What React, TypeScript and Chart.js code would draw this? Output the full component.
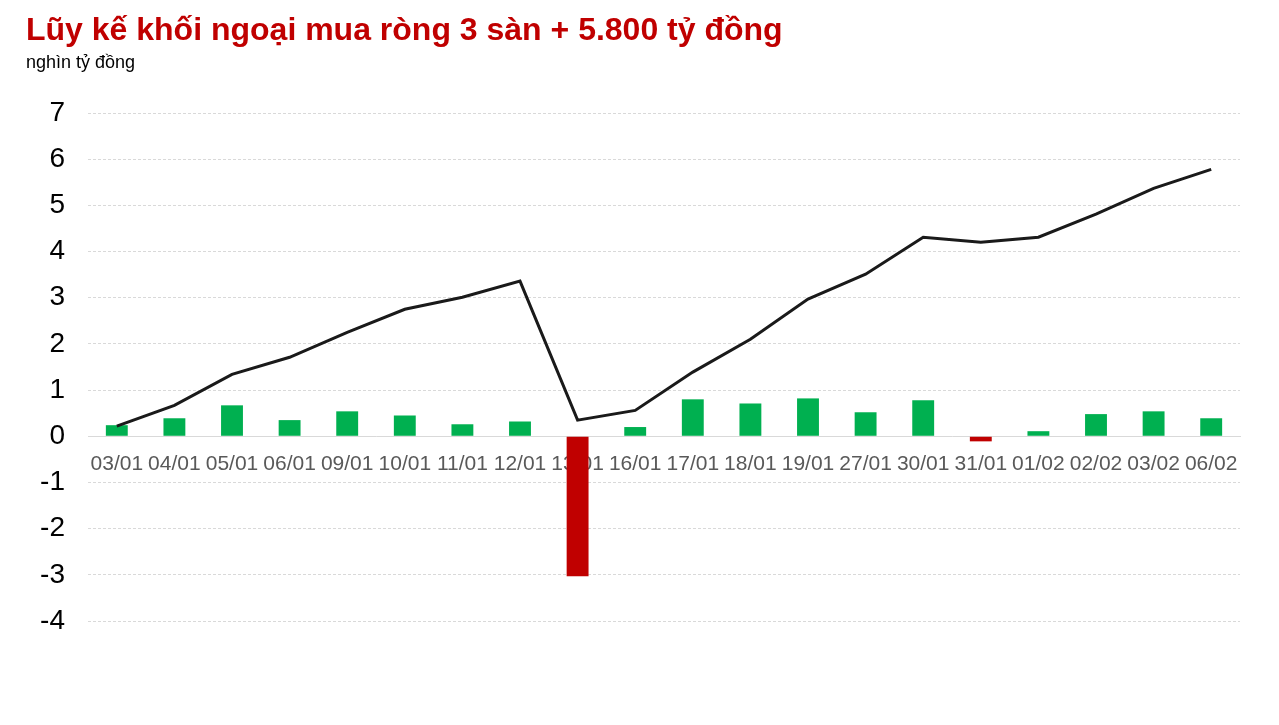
import React, { useEffect, useRef } from "react";
import { Chart, registerables } from "chart.js";

Chart.register(...registerables);

const categories = ["03/01","04/01","05/01","06/01","09/01","10/01","11/01","12/01","13/01","16/01","17/01","18/01","19/01","27/01","30/01","31/01","01/02","02/02","03/02","06/02"];
const dailyNet = [0.24,0.39,0.67,0.35,0.54,0.45,0.26,0.32,-3.03,0.2,0.8,0.71,0.82,0.52,0.78,-0.11,0.11,0.48,0.54,0.39];
const cumulative = [0.22,0.67,1.34,1.71,2.25,2.75,3.01,3.36,0.35,0.56,1.39,2.1,2.97,3.51,4.31,4.2,4.31,4.81,5.37,5.78];
const yTicks = [7,6,5,4,3,2,1,0,-1,-2,-3,-4];

const titleText = "Lũy kế khối ngoại mua ròng 3 sàn + 5.800 tỷ đồng";
const subtitleText = "nghìn tỷ đồng";

const FONT = "'Liberation Sans', Arial, sans-serif";

export default function App() {
  const ref = useRef<HTMLCanvasElement>(null);
  useEffect(() => {
    const ctx = ref.current!;
    const chart = new Chart(ctx, {
      type: "bar",
      data: {
        labels: categories,
        datasets: [
          {
            type: "line",
            data: cumulative,
            borderColor: "#1a1a1a",
            borderWidth: 3,
            pointRadius: 0,
            tension: 0,
            order: 0,
          } as any,
          {
            type: "bar",
            data: dailyNet,
            backgroundColor: dailyNet.map((v) => (v >= 0 ? "#00b050" : "#c00000")),
            categoryPercentage: 1,
            barPercentage: 0.38,
            order: 1,
          },
        ],
      },
      options: {
        animation: false,
        responsive: false,
        maintainAspectRatio: false,
        layout: { padding: { left: 26, right: 39, top: 12, bottom: 104 } },
        plugins: {
          legend: { display: false },
          tooltip: { enabled: false },
          title: {
            display: true,
            text: titleText,
            align: "start",
            color: "#c00000",
            font: { family: FONT, size: 32, weight: "bold" },
            padding: { top: 0, bottom: 2 },
          },
          subtitle: {
            display: true,
            text: subtitleText,
            align: "start",
            color: "#000000",
            font: { family: FONT, size: 18 },
            padding: { top: 0, bottom: 39 },
          },
        },
        scales: {
          x: {
            position: { y: 0 } as any,
            z: 1,
            grid: { display: false, drawTicks: false },
            border: { display: true, color: "#d9d9d9", width: 1 },
            ticks: {
              autoSkip: false,
              maxRotation: 0,
              minRotation: 0,
              color: "#595959",
              padding: 15,
              font: { family: FONT, size: 21 },
            },
          },
          y: {
            min: -4,
            max: 7,
            afterBuildTicks: (scale: any) => {
              scale.ticks = yTicks.map((v) => ({ value: v }));
            },
            afterFit: (scale: any) => {
              scale.width = 62;
            },
            grid: { color: "#d9d9d9", drawTicks: false, lineWidth: 1 },
            border: { display: false, dash: [3, 2] },
            ticks: {
              color: "#000000",
              padding: 23,
              font: { family: FONT, size: 28 },
            },
          },
        },
      },
    });
    return () => chart.destroy();
  }, []);
  return (
    <div style={{ position: "fixed", left: 0, top: 0, width: 1279, height: 725, background: "#fff" }}>
      <canvas ref={ref} width={1279} height={725} />
    </div>
  );
}
